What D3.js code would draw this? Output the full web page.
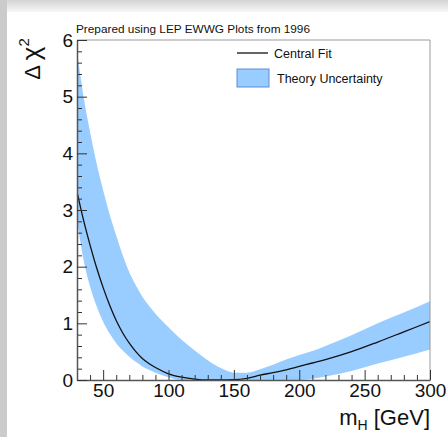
<!DOCTYPE html>
<html>
<head>
<meta charset="utf-8">
<script src="https://cdn.jsdelivr.net/npm/d3@7"></script>
<style>
  body { margin: 0; background: #fff; }
  svg { display: block; font-family: "Liberation Sans", Arial, sans-serif; }
</style>
</head>
<body>
<svg id="chart" width="448" height="437"></svg>
<script>
// Higgs mass scan points (GeV)
var massGrid = [30, 35, 40, 45, 50, 55, 60, 65, 70, 75, 80, 85, 90, 100, 110, 120, 130, 140, 150,
                160, 170, 180, 190, 200, 210, 220, 240, 260, 280, 300];
// central fit delta chi^2
var centralFit = [3.32, 2.82, 2.38, 1.98, 1.63, 1.32, 1.05, 0.83, 0.65, 0.5, 0.38, 0.29, 0.22, 0.11, 0.05, 0.015, 0.0, 0.0, 0.005,
                  0.03, 0.085, 0.13, 0.18, 0.24, 0.3, 0.36, 0.5, 0.67, 0.85, 1.03];
// theory uncertainty band edges
var bandUpper = [5.8, 5.0, 4.38, 3.82, 3.35, 2.92, 2.55, 2.2, 1.9, 1.67, 1.47, 1.31, 1.17, 0.93, 0.71, 0.52, 0.35, 0.21, 0.13,
                 0.13, 0.19, 0.27, 0.36, 0.44, 0.51, 0.6, 0.79, 1.0, 1.19, 1.39];
var bandLower = [2.82, 2.12, 1.65, 1.3, 1.03, 0.82, 0.65, 0.52, 0.41, 0.32, 0.24, 0.18, 0.13, 0.05, 0.0, 0.0, 0.0, 0.0, 0.0,
                 0.0, 0.0, 0.0, 0.0, 0.0, 0.02, 0.06, 0.16, 0.29, 0.41, 0.54];

var xMajor = [50, 100, 150, 200, 250, 300];
var yMajor = [0, 1, 2, 3, 4, 5, 6];
var legendLabels = ["Central Fit", "Theory Uncertainty"];
var noteText = "Prepared using LEP EWWG Plots from 1996";

var svg = d3.select("#chart");

// page frame (screenshot border)
var grad = svg.append("defs").append("linearGradient")
  .attr("id", "topShade").attr("x1", 0).attr("y1", 0).attr("x2", 0).attr("y2", 1);
grad.append("stop").attr("offset", "0%").attr("stop-color", "#d4d4d4");
grad.append("stop").attr("offset", "100%").attr("stop-color", "#f7f7f7");
svg.append("rect").attr("x", 0).attr("y", 0).attr("width", 448).attr("height", 437).attr("fill", "#fff");
svg.append("rect").attr("x", 0).attr("y", 0).attr("width", 448).attr("height", 12).attr("fill", "url(#topShade)");
svg.append("rect").attr("x", 0).attr("y", 0).attr("width", 7).attr("height", 437).attr("fill", "#cbcbcb");

var plot = { left: 77, right: 430, top: 40, bottom: 380 };

var x = d3.scaleLinear().domain([30, 300]).range([plot.left, plot.right]);
var y = d3.scaleLinear().domain([0, 6]).range([plot.bottom, plot.top]);

svg.append("clipPath").attr("id", "plotClip")
  .append("rect")
  .attr("x", plot.left).attr("y", plot.top)
  .attr("width", plot.right - plot.left).attr("height", plot.bottom - plot.top);

var rows = massGrid.map(function(m, i) {
  return { m: m, c: centralFit[i], hi: bandUpper[i], lo: bandLower[i] };
});

var band = d3.area()
  .x(function(d) { return x(d.m); })
  .y0(function(d) { return y(d.lo); })
  .y1(function(d) { return y(d.hi); })
  .curve(d3.curveMonotoneX);

var line = d3.line()
  .x(function(d) { return x(d.m); })
  .y(function(d) { return y(d.c); })
  .curve(d3.curveMonotoneX);

var g = svg.append("g").attr("clip-path", "url(#plotClip)");
g.append("path").datum(rows).attr("d", band).attr("fill", "#99ccff");
g.append("path").datum(rows).attr("d", line)
  .attr("fill", "none").attr("stroke", "#111").attr("stroke-width", 1.3);

// frame top / right
svg.append("path")
  .attr("d", "M" + plot.left + "," + plot.top + "H" + plot.right + "V" + plot.bottom)
  .attr("fill", "none").attr("stroke", "#9a9a9a").attr("stroke-width", 1);

// minor ticks
var xMinor = d3.range(40, 301, 10).filter(function(v) { return v % 50 != 0; });
var yMinor = d3.range(1, 30).map(function(i) { return i * 0.2; }).filter(function(v) {
  return Math.abs(v - Math.round(v)) > 0.01;
});

svg.append("g").attr("transform", "translate(0," + plot.bottom + ")")
  .call(d3.axisBottom(x).tickValues(xMinor).tickSize(-5).tickFormat(""))
  .call(function(a) { a.select(".domain").remove(); a.selectAll("line").attr("stroke", "#333"); });

svg.append("g").attr("transform", "translate(" + plot.left + ",0)")
  .call(d3.axisLeft(y).tickValues(yMinor).tickSize(-5).tickFormat(""))
  .call(function(a) { a.select(".domain").remove(); a.selectAll("line").attr("stroke", "#333"); });

// major axes
var xAxis = svg.append("g").attr("transform", "translate(0," + plot.bottom + ")")
  .call(d3.axisBottom(x).tickValues(xMajor).tickSize(-10).tickSizeOuter(0).tickPadding(3));
var yAxis = svg.append("g").attr("transform", "translate(" + plot.left + ",0)")
  .call(d3.axisLeft(y).tickValues(yMajor).tickSize(-10).tickSizeOuter(0).tickPadding(4).tickFormat(d3.format("d")));

[xAxis, yAxis].forEach(function(a) {
  a.select(".domain").attr("stroke", "#555").attr("stroke-width", 1.5);
  a.selectAll("line").attr("stroke", "#333");
  a.selectAll("text").attr("font-size", 19).attr("fill", "#111")
    .attr("font-family", "Liberation Sans, Arial, sans-serif");
});

// axis titles
var xt = svg.append("text").attr("x", plot.right).attr("y", 425)
  .attr("text-anchor", "end").attr("font-size", 22).attr("fill", "#111");
xt.append("tspan").text("m");
xt.append("tspan").attr("font-size", 14).attr("dy", 5).text("H");
xt.append("tspan").attr("dy", -5).text(" [GeV]");

var yt = svg.append("text").attr("transform", "translate(40,59) rotate(-90)")
  .attr("text-anchor", "middle").attr("font-size", 22).attr("fill", "#111");
yt.append("tspan").text("\u0394 ");
yt.append("tspan").attr("font-size", 26).text("\u03c7");
yt.append("tspan").attr("font-size", 15).attr("dy", -11).text("2");

// note on top
svg.append("text").attr("x", 76).attr("y", 33)
  .attr("font-size", 11).attr("fill", "#111")
  .attr("textLength", 234).attr("lengthAdjust", "spacingAndGlyphs")
  .text(noteText);

// legend
var lg = svg.append("g");
lg.append("line").attr("x1", 237).attr("x2", 268).attr("y1", 53).attr("y2", 53)
  .attr("stroke", "#111").attr("stroke-width", 1.3);
lg.append("rect").attr("x", 237).attr("y", 69).attr("width", 32).attr("height", 18)
  .attr("fill", "#99ccff").attr("stroke", "#5b8fd6").attr("stroke-width", 1);
lg.selectAll("text.lab").data(legendLabels).enter().append("text")
  .attr("class", "lab")
  .attr("x", function(d, i) { return i == 0 ? 274 : 277; })
  .attr("y", function(d, i) { return i == 0 ? 57.5 : 82.5; })
  .attr("font-size", 12.5).attr("fill", "#111")
  .text(function(d) { return d; });
</script>
</body>
</html>
